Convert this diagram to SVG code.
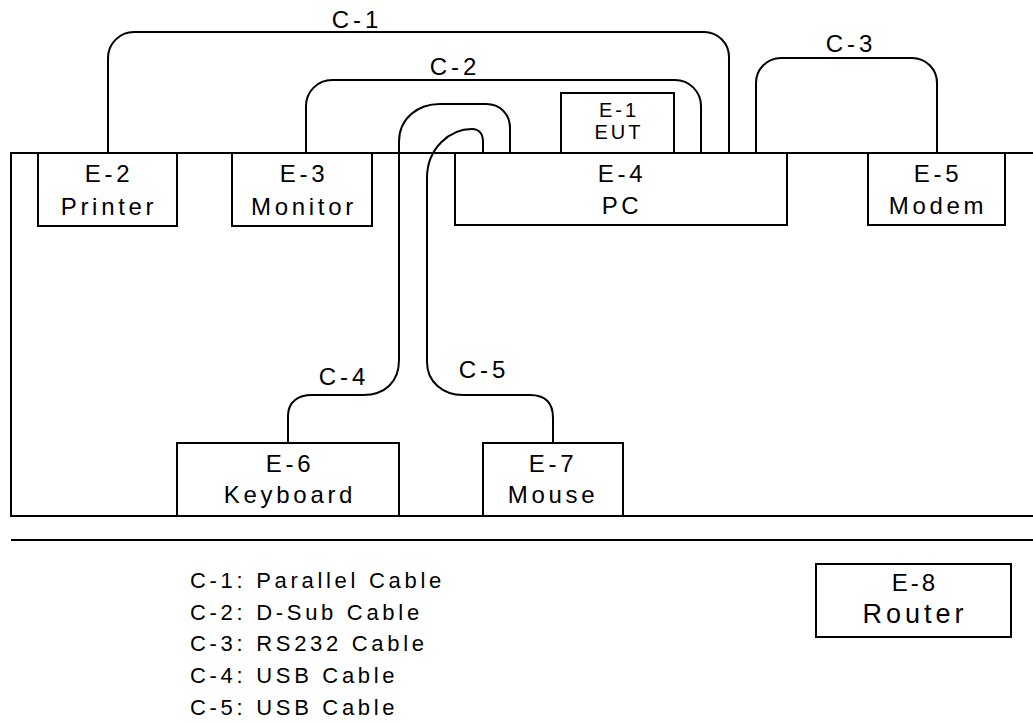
<svg xmlns="http://www.w3.org/2000/svg" width="1033" height="723" viewBox="0 0 1033 723">
<style>
  .box { fill: #fff; stroke: #000; stroke-width: 2; }
  .wire { fill: none; stroke: #000; stroke-width: 2; }
  text { font-family: "Liberation Sans", Arial, sans-serif; fill: #000; }
  .lbl { font-size: 24px; letter-spacing: 3.7px; text-anchor: middle; }
  .cab { font-size: 24px; letter-spacing: 4px; text-anchor: middle; }
  .small { font-size: 20px; letter-spacing: 3px; text-anchor: middle; }
  .leg { font-size: 22px; letter-spacing: 3.7px; }
</style>
<rect width="1033" height="723" fill="#fff"/>
<g id="enclosure">
  <rect x="11" y="153" width="1040" height="363" fill="none" stroke="#000" stroke-width="2"/>
</g>
<line id="separator" x1="11" y1="540" x2="1033" y2="540" stroke="#000" stroke-width="2"/>
<g id="connectors">
  <path class="wire" d="M108,153 V58 A26,26 0 0 1 134,32 H704 A25,25 0 0 1 729,57 V153"/>
  <path class="wire" d="M306,153 V106 A26,26 0 0 1 332,80 H675 A26,26 0 0 1 701,106 V153"/>
  <path class="wire" d="M756,153 V83 A25,25 0 0 1 781,58 H912 A25,25 0 0 1 937,83 V153"/>
  <path class="wire" d="M288,443 V416 C288,402 298,395 312,395 H363 C385,395 399,382 399,360 V142 C399,118 418,104 440,104 H486 C500,104 510,114 510,128 V153"/>
  <path class="wire" d="M553,443 V418 C553,402 545,395 530,395 H463 C443,395 427,382 427,362 V178 C427,148 450,129 472,129 C479,129 483,134 483,142 V153"/>
  <text class="cab" x="357" y="28">C-1</text>
  <text class="cab" x="455" y="75">C-2</text>
  <text class="cab" x="851" y="52">C-3</text>
  <text class="cab" x="344" y="385">C-4</text>
  <text class="cab" x="484" y="378">C-5</text>
</g>
<g id="E-1">
  <rect class="box" x="561" y="93" width="113" height="60"/>
  <text class="small" x="619" y="117">E-1</text>
  <text class="small" x="619" y="139">EUT</text>
</g>
<g id="E-2">
  <rect class="box" x="38" y="153" width="139" height="73"/>
  <text class="lbl" x="109" y="182">E-2</text>
  <text class="lbl" x="109" y="215">Printer</text>
</g>
<g id="E-3">
  <rect class="box" x="232" y="153" width="140" height="73"/>
  <text class="lbl" x="304" y="182">E-3</text>
  <text class="lbl" x="304" y="215">Monitor</text>
</g>
<g id="E-4">
  <rect class="box" x="455" y="153" width="332" height="72"/>
  <text class="lbl" x="622" y="182">E-4</text>
  <text class="lbl" x="622" y="214">PC</text>
</g>
<g id="E-5">
  <rect class="box" x="868" y="153" width="137" height="72"/>
  <text class="lbl" x="938" y="182">E-5</text>
  <text class="lbl" x="938" y="214">Modem</text>
</g>
<g id="E-6">
  <rect class="box" x="177" y="443" width="222" height="73"/>
  <text class="lbl" x="290" y="472">E-6</text>
  <text class="lbl" x="290" y="503">Keyboard</text>
</g>
<g id="E-7">
  <rect class="box" x="483" y="443" width="140" height="73"/>
  <text class="lbl" x="553" y="472">E-7</text>
  <text class="lbl" x="553" y="503">Mouse</text>
</g>
<g id="E-8">
  <rect class="box" x="816" y="564" width="195" height="73"/>
  <text class="lbl" x="915" y="591" style="font-size:24px;letter-spacing:3px">E-8</text>
  <text class="lbl" x="915" y="623" style="font-size:27px;letter-spacing:4px">Router</text>
</g>
<g id="legend">
  <text class="leg" x="190" y="588">C-1: Parallel Cable</text>
  <text class="leg" x="190" y="620">C-2: D-Sub Cable</text>
  <text class="leg" x="190" y="651">C-3: RS232 Cable</text>
  <text class="leg" x="190" y="683">C-4: USB Cable</text>
  <text class="leg" x="190" y="715">C-5: USB Cable</text>
</g>
</svg>
